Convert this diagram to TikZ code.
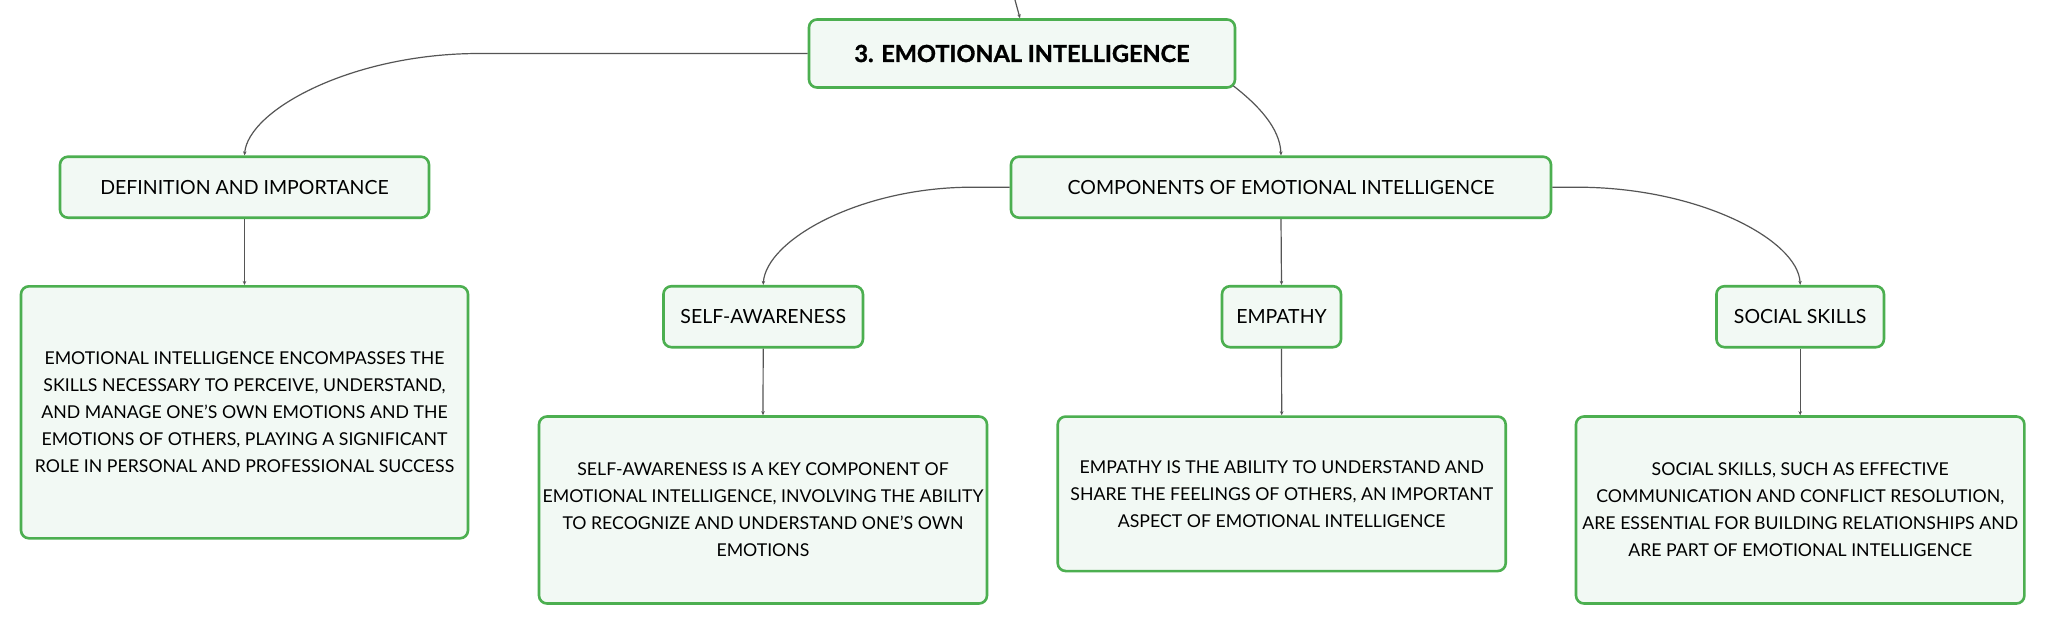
\documentclass[tikz,border=0pt]{standalone}
\usepackage{fontspec}
\setmainfont{Lato}
\newfontfamily\titlefont{Lato}[FakeBold=1.2]
\usetikzlibrary{arrows.meta}
\definecolor{bgreen}{HTML}{4CAF50}
\definecolor{bfill}{HTML}{F2F9F4}
\definecolor{lgray}{HTML}{555555}
\begin{document}
\begin{tikzpicture}[x=1pt,y=-1pt,
  box/.style={draw=bgreen, line width=2.6pt, fill=bfill, rounded corners=8pt, inner sep=0pt, align=center, text=black},
  titlebox/.style={box, font=\titlefont\bfseries\fontsize{23.5}{27}\selectfont},
  labelbox/.style={box, font=\fontsize{19.5}{23}\selectfont},
  textbox/.style={box, font=\fontsize{17.7}{27}\selectfont},
  conn/.style={draw=lgray, line width=1.2pt, -{Stealth[length=4pt,width=3.5pt]}}]
\useasboundingbox (0,0) rectangle (2046,624);
\fill[white] (0,0) rectangle (2046,624);

\node[titlebox, minimum width=426pt, minimum height=68pt] (title) at (1022,53.5) {3. EMOTIONAL INTELLIGENCE};

\node[labelbox, minimum width=369pt, minimum height=61pt] (def) at (244.5,187.2) {DEFINITION AND IMPORTANCE};
\node[labelbox, minimum width=540pt, minimum height=61pt] (comp) at (1281,187.2) {COMPONENTS OF EMOTIONAL INTELLIGENCE};

\node[labelbox, minimum width=199.5pt, minimum height=61pt] (sa) at (763.2,316.7) {SELF-AWARENESS};
\node[labelbox, minimum width=119pt, minimum height=61pt] (emp) at (1281.5,316.7) {EMPATHY};
\node[labelbox, minimum width=167.5pt, minimum height=61pt] (ss) at (1800.2,316.7) {SOCIAL SKILLS};

\node[textbox, minimum width=447pt, minimum height=252pt] (deftext) at (244.5,412.3) {EMOTIONAL INTELLIGENCE ENCOMPASSES THE\\SKILLS NECESSARY TO PERCEIVE, UNDERSTAND,\\AND MANAGE ONE'S OWN EMOTIONS AND THE\\EMOTIONS OF OTHERS, PLAYING A SIGNIFICANT\\ROLE IN PERSONAL AND PROFESSIONAL SUCCESS};
\node[textbox, minimum width=448pt, minimum height=187pt] (satext) at (763,510) {SELF-AWARENESS IS A KEY COMPONENT OF\\EMOTIONAL INTELLIGENCE, INVOLVING THE ABILITY\\TO RECOGNIZE AND UNDERSTAND ONE'S OWN\\EMOTIONS};
\node[textbox, minimum width=448pt, minimum height=154.5pt] (emptext) at (1281.7,493.8) {EMPATHY IS THE ABILITY TO UNDERSTAND AND\\SHARE THE FEELINGS OF OTHERS, AN IMPORTANT\\ASPECT OF EMOTIONAL INTELLIGENCE};
\node[textbox, minimum width=448.4pt, minimum height=187pt] (sstext) at (1800.2,510) {SOCIAL SKILLS, SUCH AS EFFECTIVE\\COMMUNICATION AND CONFLICT RESOLUTION,\\ARE ESSENTIAL FOR BUILDING RELATIONSHIPS AND\\ARE PART OF EMOTIONAL INTELLIGENCE};

\coordinate (top) at (1015,0);
\coordinate (c1) at (479,53.5);
\coordinate (c2) at (972,187.2);
\coordinate (c3) at (1577,187.2);

\draw[conn] (top) -- ([xshift=-2pt]title.north);
\draw[conn] (title.west) -- (c1) .. controls (352,53.5) and (248,110) .. (def.north);
\draw[conn] ([xshift=-3pt,yshift=3pt]title.south east) .. controls (1258,105) and (1280,128) .. (comp.north);
\draw[conn] (comp.west) -- (c2) .. controls (860,187.2) and (766,240) .. (sa.north);
\draw[conn] (comp.east) -- (c3) .. controls (1699,187.2) and (1798,240) .. (ss.north);
\draw[conn] (def.south) -- (deftext.north);
\draw[conn] (comp.south) -- (emp.north);
\draw[conn] (sa.south) -- (satext.north);
\draw[conn] (emp.south) -- (emptext.north);
\draw[conn] (ss.south) -- (sstext.north);
\end{tikzpicture}
\end{document}
